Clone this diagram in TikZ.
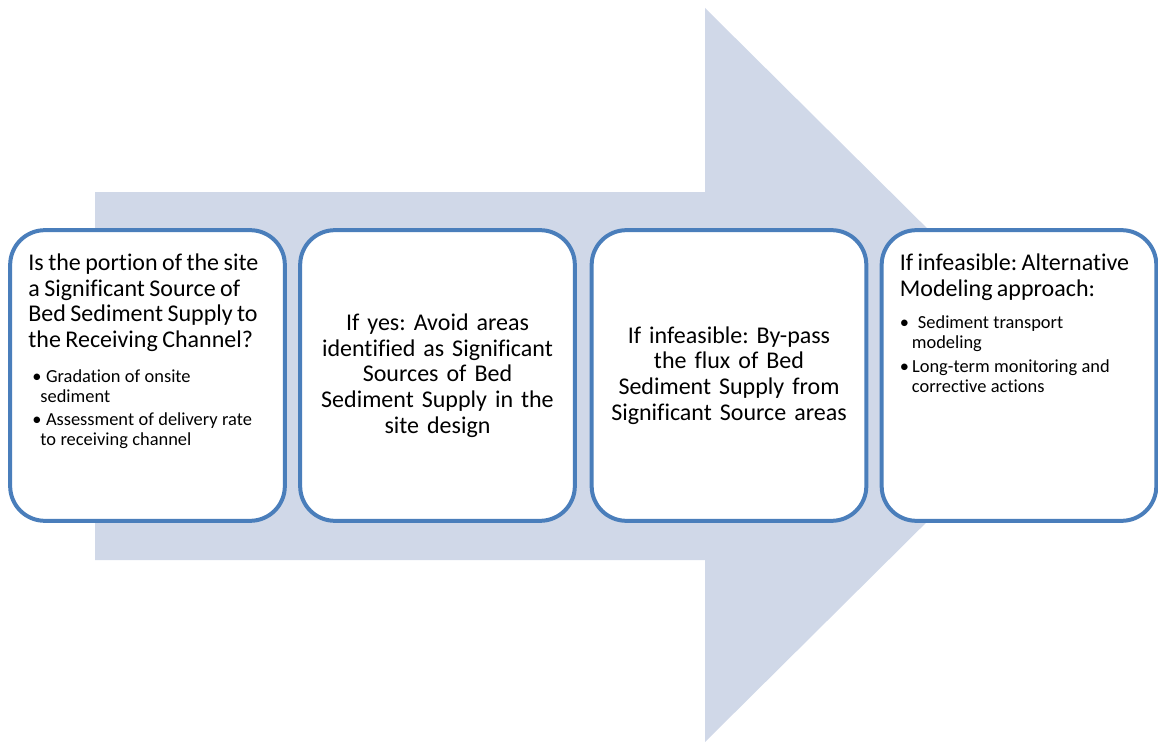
\documentclass[tikz,border=0pt]{standalone}
\usepackage{fontspec}
\setmainfont{Carlito}[Ligatures=CommonOff]
\usepackage{tikz}
\usetikzlibrary{positioning}
\definecolor{arrowfill}{RGB}{208,216,232}
\definecolor{cardline}{RGB}{74,126,187}
\newcommand{\headsize}{\fontsize{18}{19.3}\selectfont}
\newcommand{\notesize}{\fontsize{13.8}{15}\selectfont}
\frenchspacing

\begin{document}
\begin{tikzpicture}[
    x=0.75pt, y=-0.75pt,
    card/.style={draw=cardline, line width=3pt, fill=white, rounded corners=26pt, minimum width=206pt, minimum height=218pt, inner sep=0pt},
    cardtext/.style={inner sep=0pt, text width=200pt, align=left},
    midtext/.style={inner sep=0pt, text width=200pt, align=center, font=\headsize}
]
    \useasboundingbox (0,0) rectangle (1158,742);
    % Big arrow
    \fill[arrowfill] (95,192) -- (705,192) -- (705,8) -- (1075,375) -- (705,742) -- (705,560) -- (95,560) -- cycle;
    % Cards
    \node[card] (b1) at (147.5,375.5) {};
    \node[card] (b2) at (437.5,375.5) {};
    \node[card] (b3) at (729,375.5) {};
    \node[card] (b4) at (1019,375.5) {};
    % Texts
    \node[cardtext, below right=19pt and 15pt of b1.north west] (t1) {%
        \headsize Is the portion of the site\\ a Significant Source of\\ Bed Sediment Supply to\\ the Receiving Channel?\par
        \vspace{11pt}
        \notesize\hspace*{3pt}\textbullet\ Gradation of onsite\\ \hspace*{9pt}sediment\par
        \vspace{2.5pt}
        \hspace*{3pt}\textbullet\ Assessment of delivery rate\\ \hspace*{9pt}to receiving channel\par};
    \node[midtext] (t2) at (b2.center) {If yes: Avoid areas\\ identified as Significant\\ Sources of Bed\\ Sediment Supply in the\\ site design};
    \node[midtext] (t3) at (b3.center) {If infeasible: By-pass\\ the flux of Bed\\ Sediment Supply from\\ Significant Source areas};
    \node[cardtext, below right=19pt and 15pt of b4.north west] (t4) {%
        \headsize If infeasible: Alternative\\ Modeling approach:\par
        \vspace{9pt}
        \notesize\textbullet\ \ Sediment transport\\ \hspace*{9pt}modeling\par
        \vspace{3.5pt}
        \textbullet\,Long-term monitoring and\\ \hspace*{9pt}corrective actions\par};
\end{tikzpicture}
\end{document}
